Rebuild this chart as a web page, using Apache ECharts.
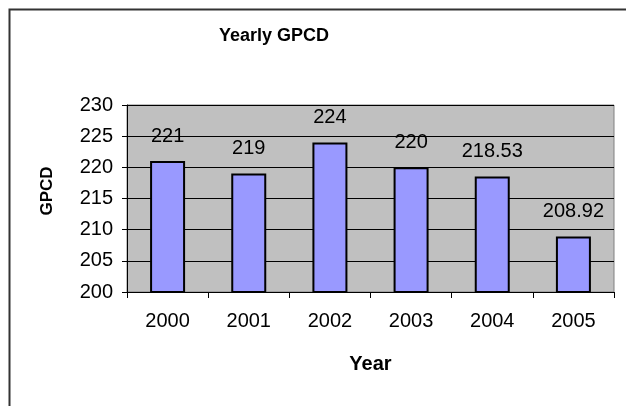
<!DOCTYPE html>
<html>
<head>
<meta charset="utf-8">
<script src="https://cdn.jsdelivr.net/npm/echarts@6/dist/echarts.min.js"></script>
<style>
html,body{margin:0;padding:0;background:#fff;}
#chart{width:626px;height:406px;}
</style>
</head>
<body>
<div id="chart"></div>
<script>
const years = ['2000', '2001', '2002', '2003', '2004', '2005'];
const gpcd = [221, 219, 224, 220, 218.53, 208.92];
const yMin = 200, yMax = 230, yStep = 5;

const chart = echarts.init(document.getElementById('chart'), null, {renderer: 'canvas'});
const font = 'Liberation Sans, Arial, sans-serif';
chart.setOption({
  animation: false,
  backgroundColor: '#ffffff',
  graphic: [{
    type: 'rect', left: 7, top: 7, silent: true,
    shape: {x: 0, y: 0, width: 700, height: 500},
    style: {fill: 'none', stroke: '#333333', lineWidth: 2}
  }, {
    type: 'text', x: 47, y: 191, rotation: Math.PI / 2, silent: true,
    style: {text: 'GPCD', fontFamily: font, fontWeight: 'bold', fontSize: 17, fill: '#000',
            align: 'center', verticalAlign: 'middle'}
  }],
  title: {
    text: 'Yearly GPCD', left: 269, top: 22, textAlign: 'center',
    textStyle: {fontFamily: font, fontWeight: 'bold', fontSize: 18, color: '#000'}
  },
  grid: {
    left: 127, right: 12, top: 105, bottom: 114,
    show: true, backgroundColor: '#C0C0C0', borderColor: '#808080', borderWidth: 1
  },
  xAxis: {
    type: 'category', data: years,
    name: 'Year', nameLocation: 'middle', nameGap: 62,
    nameTextStyle: {fontFamily: font, fontWeight: 'bold', fontSize: 20, color: '#000'},
    axisLine: {lineStyle: {color: '#000', width: 1}},
    axisTick: {show: true, length: 6, alignWithLabel: false, lineStyle: {color: '#000'}},
    axisLabel: {fontFamily: font, fontSize: 20, color: '#000', margin: 19},
    splitLine: {show: false}
  },
  yAxis: {
    type: 'value', min: yMin, max: yMax, interval: yStep,
    axisLine: {show: true, lineStyle: {color: '#000', width: 1}},
    axisTick: {show: true, length: 5, lineStyle: {color: '#000'}},
    axisLabel: {fontFamily: font, fontSize: 20, color: '#000', margin: 14},
    splitLine: {show: true, lineStyle: {color: '#000', width: 1}}
  },
  series: [{
    type: 'bar', data: gpcd, barWidth: 35,
    itemStyle: {color: '#9999FF', borderColor: '#000', borderWidth: 2},
    label: {
      show: true, position: 'top', distance: 15,
      fontFamily: font, fontSize: 20, color: '#000',
      formatter: p => String(p.value)
    }
  }]
});
</script>
</body>
</html>
